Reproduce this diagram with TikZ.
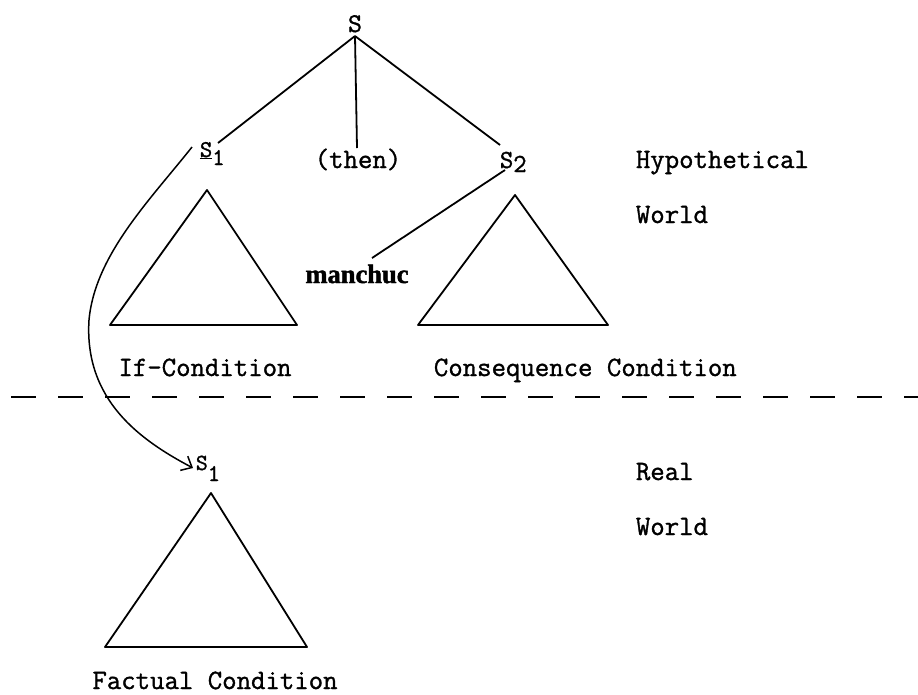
\documentclass[tikz,border=0pt]{standalone}
\usepackage{fontspec}
\setmonofont{Latin Modern Mono}[FakeBold=1.2]
\newfontfamily\heavyserif{Liberation Serif}[FakeBold=1.5]
\usetikzlibrary{arrows.meta}
% typewriter text at a given size
\newcommand{\twsize}[1]{\fontsize{#1}{#1}\selectfont\ttfamily}
\begin{document}
\begin{tikzpicture}[x=1pt,y=-1pt,line width=1.8pt,
  lbl/.style={font=\twsize{28},inner sep=0pt,anchor=base},
  lblw/.style={lbl,anchor=base west},
  tri/.style={line width=1.8pt,line join=round}]
\useasboundingbox (0,0) rectangle (918,694);

% upper tree labels
\node[lbl,font=\twsize{27}] (S) at (355,32) {S};
\node[lblw,font=\twsize{24}] (S1) at (199,157)
  {\underline{S}\raisebox{-8pt}{\twsize{24}1}};
\node[lbl] (then) at (358,168) {(then)};
\node[lblw,font=\twsize{26}] (S2) at (499,168)
  {S\raisebox{-4pt}{\twsize{26}2}};
\node[lblw] (hyp) at (635,168) {Hypothetical};
\node[lblw] (hw) at (635,223) {World};
\node[inner sep=0pt,anchor=base,font=\fontsize{26.5}{27}\selectfont\heavyserif\bfseries]
  (manchuc) at (357,283) {manchuc};

% branch ends
\coordinate (top) at (355,36);
\coordinate (e1) at (218,143);
\coordinate (e2) at (357,148);
\coordinate (e3) at (500,145);
\coordinate (s2foot) at (505,170);
\coordinate (mfoot) at (372,258);

\draw (top) -- (e1);
\draw (top) -- (e2);
\draw (top) -- (e3);
\draw (s2foot) -- (mfoot);

% subtrees
\draw[tri] (207,190) -- (110,325) -- (297,325) -- cycle;
\draw[tri] (515,195) -- (418,325) -- (608,325) -- cycle;
\node[lbl] (ifc) at (205,376) {If-Condition};
\node[lblw] (cons) at (433,376) {Consequence Condition};

% world boundary
\draw[line width=1.9pt,dash pattern=on 25pt off 22pt] (11,397) -- (918,397);

% real world
\node[lblw,font=\twsize{23}] (S1r) at (195,470)
  {S\raisebox{-11pt}{\twsize{24}1}};
\node[lblw] (real) at (635,480) {Real};
\node[lblw] (rw) at (635,535) {World};
\draw[tri] (211,493) -- (105,647) -- (307,647) -- cycle;
\node[lbl] (fact) at (215,689) {Factual Condition};

% link from hypothetical S1 to real S1
\coordinate (cstart) at (192,147);
\draw[line width=1.5pt,-{Straight Barb[length=9pt,width=16pt]}]
  (cstart) .. controls (150,200) and (95,255) .. (89,320)
  .. controls (84,400) and (140,440) .. ([xshift=-2pt,yshift=2pt]S1r.base west);
\end{tikzpicture}
\end{document}
